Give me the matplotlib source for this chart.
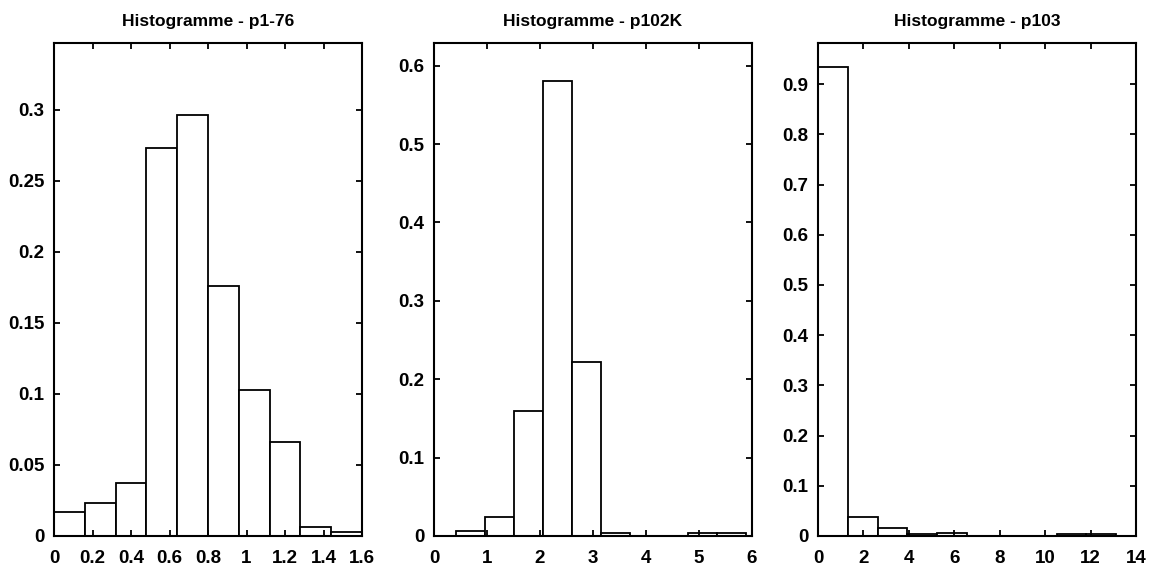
import matplotlib.pyplot as plt
import numpy as np

plt.rcParams['font.family'] = ['Liberation Sans', 'DejaVu Sans']

titres = ["Histogramme - p1-76", "Histogramme - p102K", "Histogramme - p103"]

p1_bords = [0, 0.16, 0.32, 0.48, 0.64, 0.80, 0.96, 1.12, 1.28, 1.44, 1.60]
p1_freq = [0.017, 0.0235, 0.037, 0.273, 0.296, 0.176, 0.103, 0.066, 0.006, 0.003]

p2_bords = [0.41, 0.96, 1.51, 2.05, 2.60, 3.15, 3.70, 4.25, 4.79, 5.34, 5.89]
p2_freq = [0.0065, 0.024, 0.16, 0.58, 0.222, 0.0035, 0, 0, 0.0035, 0.0035]

p3_bords = [0, 1.31, 2.62, 3.94, 5.25, 6.56, 7.87, 9.18, 10.5, 11.81, 13.12]
p3_freq = [0.934, 0.037, 0.016, 0.003, 0.0065, 0, 0, 0, 0.003, 0.003]

p1_xticks = [0, 0.2, 0.4, 0.6, 0.8, 1, 1.2, 1.4, 1.6]
p1_xlabels = ["0", "0.2", "0.4", "0.6", "0.8", "1", "1.2", "1.4", "1.6"]
p1_yticks = [0, 0.05, 0.1, 0.15, 0.2, 0.25, 0.3]
p1_ylabels = ["0", "0.05", "0.1", "0.15", "0.2", "0.25", "0.3"]

p2_xticks = [0, 1, 2, 3, 4, 5, 6]
p2_yticks = [0, 0.1, 0.2, 0.3, 0.4, 0.5, 0.6]
p2_ylabels = ["0", "0.1", "0.2", "0.3", "0.4", "0.5", "0.6"]

p3_xticks = [0, 2, 4, 6, 8, 10, 12, 14]
p3_yticks = [0, 0.1, 0.2, 0.3, 0.4, 0.5, 0.6, 0.7, 0.8, 0.9]
p3_ylabels = ["0", "0.1", "0.2", "0.3", "0.4", "0.5", "0.6", "0.7", "0.8", "0.9"]

fig = plt.figure(figsize=(11.49, 5.68), dpi=100)

W, H = 1149.0, 568.0
# positions des axes en pixels (gauche, droite)
cadres = [(54, 362), (434, 752), (818, 1136)]
haut, bas = 43, 536

panneaux = [
    (p1_bords, p1_freq, (0, 1.6), (0, 0.347), p1_xticks, p1_xlabels, p1_yticks, p1_ylabels),
    (p2_bords, p2_freq, (0, 6), (0, 0.629), p2_xticks, [str(t) for t in p2_xticks], p2_yticks, p2_ylabels),
    (p3_bords, p3_freq, (0, 14), (0, 0.982), p3_xticks, [str(t) for t in p3_xticks], p3_yticks, p3_ylabels),
]

for i in range(3):
    bords, freq, xl, yl, xt, xlab, yt, ylab = panneaux[i]
    g, d = cadres[i]
    ax = fig.add_axes([g / W, (H - bas) / H, (d - g) / W, (bas - haut) / H])
    largeurs = np.diff(bords)
    ax.bar(bords[:-1], freq, width=largeurs, align='edge', color='white',
           edgecolor='black', linewidth=1.3)
    ax.set_xlim(xl)
    ax.set_ylim(yl)
    ax.set_xticks(xt)
    ax.set_xticklabels(xlab)
    ax.set_yticks(yt)
    ax.set_yticklabels(ylab)
    ax.tick_params(direction='in', top=True, right=True, length=4, width=1.3,
                   labelsize=13.5)
    ax.tick_params(axis='x', pad=10)
    ax.tick_params(axis='y', pad=7)
    for lab in ax.get_xticklabels() + ax.get_yticklabels():
        lab.set_fontweight('bold')
    for sp in ax.spines.values():
        sp.set_linewidth(1.5)
    ax.set_title(titres[i], fontsize=12.5, fontweight='bold', pad=12)

fig.savefig("out.png", dpi=100)
